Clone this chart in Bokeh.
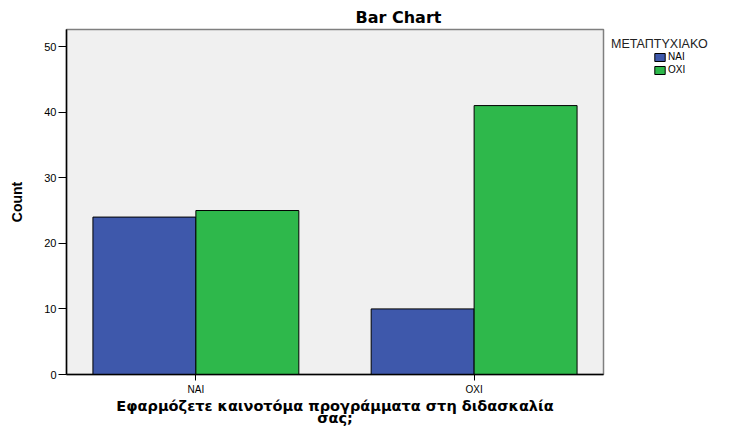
from bokeh.plotting import figure
from bokeh.models import (FactorRange, Range1d, FixedTicker, Legend, LegendItem,
                          ColumnDataSource)
from bokeh.transform import dodge
from bokeh.embed import file_html
from bokeh.resources import INLINE

categories = ["ΝΑΙ", "ΟΧΙ"]
series_names = ["ΝΑΙ", "ΟΧΙ"]
nai_counts = [24, 10]
oxi_counts = [25, 41]
y_ticks = [0, 10, 20, 30, 40, 50]
legend_title = "ΜΕΤΑΠΤΥΧΙΑΚΟ"
x_title = "Εφαρμόζετε καινοτόμα προγράμματα στη διδασκαλία\nσας;"

src = ColumnDataSource(dict(cat=categories, nai=nai_counts, oxi=oxi_counts))

BLUE = "#3E58AB"
GREEN = "#2EB84B"

p = figure(frame_width=537, frame_height=345, output_backend="svg",
           toolbar_location=None,
           x_range=FactorRange(*categories, range_padding=-0.035,
                               range_padding_units="absolute"),
           y_range=Range1d(0, 52.6),
           min_border_left=66, min_border_top=29, min_border_right=139,
           min_border_bottom=53)

p.title.text = "Bar Chart"
p.title.align = "left"
p.title.offset = 289
p.title.text_font = "DejaVu Sans"
p.title.text_font_size = "16px"
p.title.text_font_style = "bold"
p.title.text_color = "black"
p.title.standoff = 5

p.background_fill_color = "#F0F0F0"
p.border_fill_color = "white"
p.outline_line_color = "#7f7f7f"
p.outline_line_width = 1.5
p.xgrid.grid_line_color = None
p.ygrid.grid_line_color = None

b1 = p.vbar(x=dodge("cat", -0.185, range=p.x_range), top="nai", width=0.37,
            source=src, fill_color=BLUE, line_color="black", line_width=1)
b2 = p.vbar(x=dodge("cat", 0.185, range=p.x_range), top="oxi", width=0.37,
            source=src, fill_color=GREEN, line_color="black", line_width=1)

# invisible placeholders used only to indent the legend entries under the title
empty = ColumnDataSource(dict(x=[], top=[]))
d1 = p.vbar(x="x", top="top", width=0.1, source=empty, fill_alpha=0, line_alpha=0)
d2 = p.vbar(x="x", top="top", width=0.1, source=empty, fill_alpha=0, line_alpha=0)

yax = p.yaxis[0]
yax.ticker = FixedTicker(ticks=y_ticks)
yax.minor_tick_line_color = None
yax.major_tick_in = 0
yax.major_tick_out = 8
yax.major_label_standoff = 2
yax.major_label_text_font = "Liberation Sans"
yax.major_label_text_font_size = "11px"
yax.major_label_text_color = "black"
yax.axis_line_color = "black"
yax.axis_line_width = 1.5
yax.axis_label = "Count"
yax.axis_label_text_font = "Liberation Sans"
yax.axis_label_text_font_size = "14px"
yax.axis_label_text_font_style = "bold"
yax.axis_label_text_color = "black"
yax.axis_label_standoff = 16

xax = p.xaxis[0]
xax.major_tick_in = 0
xax.major_tick_out = 6
xax.major_label_standoff = 3
xax.major_label_text_font = "Liberation Sans"
xax.major_label_text_font_size = "10px"
xax.major_label_text_color = "black"
xax.axis_line_color = "black"
xax.axis_line_width = 1.5
xax.axis_label = x_title
xax.axis_label_text_font = "DejaVu Sans"
xax.axis_label_text_font_size = "14.5px"
xax.axis_label_text_font_style = "bold"
xax.axis_label_text_color = "black"
xax.axis_label_text_line_height = 0.77
xax.axis_label_standoff = 0

legend = Legend(items=[LegendItem(label="", renderers=[d1]),
                       LegendItem(label="", renderers=[d2]),
                       LegendItem(label=series_names[0], renderers=[b1]),
                       LegendItem(label=series_names[1], renderers=[b2])],
                location="top_left", orientation="vertical", nrows=2,
                title=legend_title, title_text_font="Liberation Sans",
                title_text_font_size="12.5px", title_text_font_style="normal",
                title_text_color="#222222", title_standoff=0,
                glyph_width=13, glyph_height=10, label_height=10, label_width=25,
                label_text_font="Liberation Sans", label_text_font_size="10px",
                label_text_color="black",
                label_standoff=2, spacing=2, padding=0, margin=8,
                border_line_color=None, background_fill_alpha=0)
p.add_layout(legend, "right")

open("out.html", "w").write(file_html(p, INLINE))
